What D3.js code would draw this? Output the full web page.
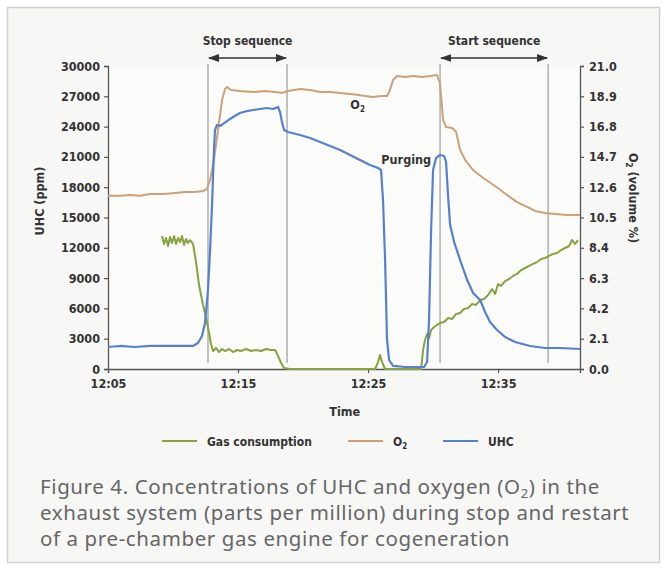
<!DOCTYPE html>
<html>
<head>
<meta charset="utf-8">
<script src="https://cdn.jsdelivr.net/npm/d3@7"></script>
<style>
  body { margin: 0; background: #fff; }
  svg { display: block; }
  .lab { font-family: "DejaVu Sans Condensed", "Liberation Sans Narrow", sans-serif; font-weight: bold; fill: #333; }
  .cap { font-family: "Noto Sans", "Open Sans", sans-serif; fill: #666; }
</style>
</head>
<body>
<svg id="chart" width="667" height="570"></svg>
<script>
// time = minutes after 12:00
var o2Time = [5.0, 5.92, 6.69, 7.46, 8.23, 9.38, 10.15, 10.92, 11.69, 12.31, 12.62, 12.85, 13.15, 13.46, 13.77, 14.0, 14.15, 14.46, 15.15, 16.15, 17.08, 17.85, 18.38, 18.85, 19.77, 20.54, 21.31, 22.08, 22.85, 23.62, 24.15, 24.77, 25.38, 26.0, 26.46, 26.69, 26.92, 27.23, 27.85, 28.46, 29.15, 29.77, 30.31, 30.54, 30.77, 31.0, 31.46, 31.77, 32.08, 32.46, 33.08, 33.85, 34.77, 35.69, 36.46, 37.23, 37.85, 38.62, 39.38, 40.31, 41.3]
var o2Values = [12.0, 12.0, 12.06, 12.0, 12.13, 12.13, 12.2, 12.27, 12.27, 12.34, 12.48, 13.1, 14.5, 16.56, 18.64, 19.4, 19.55, 19.34, 19.27, 19.2, 19.27, 19.2, 19.13, 19.27, 19.41, 19.34, 19.2, 19.2, 19.13, 19.06, 19.0, 18.92, 18.85, 18.92, 18.92, 19.34, 20.03, 20.31, 20.24, 20.31, 20.24, 20.31, 20.38, 19.75, 17.26, 16.77, 16.7, 16.43, 15.18, 14.49, 13.79, 13.24, 12.68, 12.06, 11.57, 11.23, 10.95, 10.81, 10.74, 10.67, 10.67]

var uhcTime = [5.0, 5.92, 7.08, 8.23, 9.38, 10.54, 11.54, 11.92, 12.23, 12.46, 12.69, 12.85, 13.0, 13.15, 13.23, 13.38, 13.62, 13.85, 14.15, 14.62, 15.15, 15.69, 16.15, 16.69, 17.23, 17.69, 18.08, 18.23, 18.38, 18.54, 18.85, 19.77, 20.54, 21.31, 22.08, 22.85, 23.62, 24.38, 25.15, 25.77, 26.0, 26.15, 26.31, 26.46, 26.62, 26.92, 27.85, 28.62, 29.31, 29.54, 29.69, 29.85, 30.0, 30.23, 30.54, 30.85, 31.0, 31.15, 31.31, 31.62, 32.08, 32.62, 33.08, 33.62, 34.0, 34.38, 34.92, 35.54, 36.31, 37.46, 38.62, 39.77, 41.3]
var uhcValues = [2180, 2280, 2180, 2280, 2280, 2280, 2280, 2570, 3270, 4550, 7820, 11780, 16240, 21680, 23660, 24160, 24060, 24260, 24550, 24950, 25340, 25540, 25640, 25740, 25840, 25740, 25940, 25440, 24450, 23660, 23460, 23170, 22870, 22470, 22080, 21680, 21190, 20690, 20200, 19900, 19700, 16730, 10790, 2870, 890, 300, 200, 200, 200, 690, 4850, 13760, 19700, 20890, 21190, 21090, 20490, 17230, 14260, 12570, 10790, 8810, 7520, 6830, 5640, 4650, 3860, 3170, 2670, 2280, 2080, 2080, 1980]

var gasTime = [9.15, 9.31, 9.46, 9.62, 9.77, 9.92, 10.08, 10.23, 10.38, 10.54, 10.69, 10.85, 11.0, 11.15, 11.31, 11.54, 11.77, 12.0, 12.31, 12.54, 12.77, 12.92, 13.08, 13.31, 13.54, 13.77, 14.0, 14.31, 14.62, 14.92, 15.23, 15.62, 16.0, 16.38, 16.77, 17.15, 17.54, 17.85, 18.08, 18.31, 18.54, 19.0, 25.54, 25.77, 25.92, 26.08, 26.31, 29.08, 29.23, 29.38, 29.54, 29.69, 29.85, 30.08, 30.31, 30.54, 30.85, 31.15, 31.46, 31.77, 32.08, 32.38, 32.69, 33.0, 33.31, 33.62, 33.92, 34.23, 34.54, 34.77, 35.0, 35.23, 35.54, 35.85, 36.15, 36.46, 36.77, 37.08, 37.38, 37.69, 38.0, 38.31, 38.62, 38.92, 39.23, 39.54, 39.85, 40.15, 40.46, 40.69, 40.92, 41.15]
var gasValues = [13170, 12380, 12970, 12180, 13070, 12470, 13170, 12380, 12970, 12570, 13170, 12280, 12870, 12470, 12770, 12380, 10590, 8320, 6340, 5050, 3560, 2480, 1780, 2080, 1680, 1980, 1780, 1980, 1680, 1880, 1780, 1980, 1780, 1880, 1780, 1980, 1880, 1880, 1290, 590, 100, 0, 0, 690, 1390, 690, 0, 0, 1880, 2870, 3470, 3070, 3860, 4160, 4360, 4550, 4650, 5050, 4950, 5450, 5540, 5940, 6040, 6440, 6340, 6830, 6930, 7330, 7920, 7430, 8420, 8220, 8710, 8910, 9210, 9410, 9800, 10000, 10200, 10400, 10590, 10890, 10990, 11190, 11390, 11480, 11780, 11980, 12180, 12770, 12380, 12770]

var xTickValues = [5, 15, 25, 35]
var xTickLabels = ["12:05", "12:15", "12:25", "12:35"]
var leftTicks = [0, 3000, 6000, 9000, 12000, 15000, 18000, 21000, 24000, 27000, 30000]
var rightTicks = [0, 2.1, 4.2, 6.3, 8.4, 10.5, 12.6, 14.7, 16.8, 18.9, 21.0]
var sequenceLines = [12.69, 18.77, 30.54, 38.85]
var sequenceNames = ["Stop sequence", "Start sequence"]
var legendNames = ["Gas consumption", "O", "UHC"]
var captionLines = [
  ["Figure 4. Concentrations of UHC and oxygen (O", "2", ") in the"],
  ["exhaust system (parts per million) during stop and restart"],
  ["of a pre-chamber gas engine for cogeneration"]
]

var colGas = "#86a33f", colO2 = "#cda177", colUhc = "#5580d0"

var svg = d3.select("#chart")
svg.append("rect").attr("width", 667).attr("height", 570).attr("fill", "#fff")
svg.append("rect").attr("x", 7.5).attr("y", 7.5).attr("width", 652).attr("height", 555)
  .attr("fill", "#f7f7f6").attr("stroke", "#cfcfcf").attr("stroke-width", 1.5)

var pLeft = 108, pRight = 580, pTop = 66, pBottom = 369

var x = d3.scaleLinear().domain([5, 41.3]).range([pLeft, pRight])
var yL = d3.scaleLinear().domain([0, 30000]).range([pBottom, pTop])
var yR = d3.scaleLinear().domain([0, 21]).range([pBottom, pTop])

// plot area a bit lighter
svg.append("rect").attr("x", pLeft).attr("y", pTop).attr("width", pRight - pLeft).attr("height", pBottom - pTop)
  .attr("fill", "#fbfbfa")

// sequence marker lines
svg.append("g").selectAll("line").data(sequenceLines).enter().append("line")
  .attr("x1", d => x(d)).attr("x2", d => x(d))
  .attr("y1", 64).attr("y2", 363)
  .attr("stroke", "#b3b3b3").attr("stroke-width", 1.6)

// arrows
var defs = svg.append("defs")
defs.append("marker").attr("id", "ah").attr("viewBox", "0 0 10 10")
  .attr("refX", 9).attr("refY", 5).attr("markerWidth", 7).attr("markerHeight", 7)
  .attr("orient", "auto-start-reverse")
  .append("path").attr("d", "M0,1.5 L10,5 L0,8.5 z").attr("fill", "#333")

for (var i = 0; i < 2; i++) {
  var a = sequenceLines[i * 2], b = sequenceLines[i * 2 + 1]
  svg.append("line").attr("x1", x(a) + 1).attr("x2", x(b) - 1).attr("y1", 58).attr("y2", 58)
    .attr("stroke", "#333").attr("stroke-width", 1.6)
    .attr("marker-start", "url(#ah)").attr("marker-end", "url(#ah)")
  svg.append("text").attr("class", "lab").attr("x", (x(a) + x(b)) / 2).attr("y", 45)
    .attr("text-anchor", "middle").attr("font-size", 12).text(sequenceNames[i])
}

// axes
var axL = svg.append("g").attr("transform", "translate(" + pLeft + ",0)")
  .call(d3.axisLeft(yL).tickValues(leftTicks).tickSize(4).tickPadding(4).tickFormat(d3.format("d")))
var axR = svg.append("g").attr("transform", "translate(" + pRight + ",0)")
  .call(d3.axisRight(yR).tickValues(rightTicks).tickSize(4).tickPadding(5).tickFormat(d3.format(".1f")))
var axB = svg.append("g").attr("transform", "translate(0," + pBottom + ")")
  .call(d3.axisBottom(x).tickValues(xTickValues).tickSize(4).tickPadding(6)
    .tickFormat((d, i) => xTickLabels[i]))
;[axL, axR, axB].forEach(function (g) {
  g.select(".domain").attr("stroke", "#555").attr("stroke-width", 1.3)
  g.selectAll(".tick line").attr("stroke", "#555").attr("stroke-width", 1.2)
  g.selectAll(".tick text").attr("class", "lab").attr("font-size", 12.5).attr("fill", "#333")
})

// axis titles
svg.append("text").attr("class", "lab").attr("font-size", 12.5)
  .attr("transform", "translate(40,201) rotate(-90)").attr("text-anchor", "middle")
  .attr("dy", "0.35em").text("UHC (ppm)")
var rt = svg.append("text").attr("class", "lab").attr("font-size", 12.5)
  .attr("transform", "translate(633,198) rotate(90)").attr("text-anchor", "middle").attr("dy", "0.35em")
rt.append("tspan").text("O")
rt.append("tspan").attr("font-size", 8).attr("dy", 3).text("2")
rt.append("tspan").attr("dy", -3).text(" (volume %)")
svg.append("text").attr("class", "lab").attr("font-size", 12.5)
  .attr("x", x(23.2)).attr("y", 416).attr("text-anchor", "middle").text("Time")

// series
var lineL = d3.line().x(d => x(d[0])).y(d => yL(d[1]))
var lineR = d3.line().x(d => x(d[0])).y(d => yR(d[1]))

svg.append("path").datum(d3.zip(gasTime, gasValues)).attr("d", lineL)
  .attr("fill", "none").attr("stroke", colGas).attr("stroke-width", 2).attr("stroke-linejoin", "round")
svg.append("path").datum(d3.zip(o2Time, o2Values)).attr("d", lineR)
  .attr("fill", "none").attr("stroke", colO2).attr("stroke-width", 2).attr("stroke-linejoin", "round")
svg.append("path").datum(d3.zip(uhcTime, uhcValues)).attr("d", lineL)
  .attr("fill", "none").attr("stroke", colUhc).attr("stroke-width", 2.2).attr("stroke-linejoin", "round")

// in-chart labels
var o2lab = svg.append("text").attr("class", "lab").attr("font-size", 12.5)
  .attr("x", x(24.2)).attr("y", yR(18.0)).attr("text-anchor", "middle")
o2lab.append("tspan").text("O")
o2lab.append("tspan").attr("font-size", 8).attr("dy", 3).text("2")
svg.append("text").attr("class", "lab").attr("font-size", 12.5)
  .attr("x", x(29.85)).attr("y", yL(20700)).attr("dy", "0.35em").attr("text-anchor", "end").text("Purging")

// legend
var legX = [162, 348, 443], legCols = [colGas, colO2, colUhc]
var leg = svg.append("g")
legX.forEach(function (lx, i) {
  leg.append("line").attr("x1", lx).attr("x2", lx + 35).attr("y1", 441).attr("y2", 441)
    .attr("stroke", legCols[i]).attr("stroke-width", 2)
  var t = leg.append("text").attr("class", "lab").attr("font-size", 12).attr("x", lx + 45).attr("y", 445.5)
  t.append("tspan").text(legendNames[i])
  if (i == 1) t.append("tspan").attr("font-size", 8).attr("dy", 3).text("2")
})

// caption
captionLines.forEach(function (parts, i) {
  var t = svg.append("text").attr("class", "cap").attr("font-size", 20.5).attr("letter-spacing", 0.6)
    .attr("x", 40).attr("y", 494 + i * 26)
  parts.forEach(function (p, j) {
    var s = t.append("tspan").text(p)
    if (p == "2") s.attr("font-size", 13).attr("dy", 4)
    else if (j > 0) s.attr("dy", -4)
  })
})
</script>
</body>
</html>
